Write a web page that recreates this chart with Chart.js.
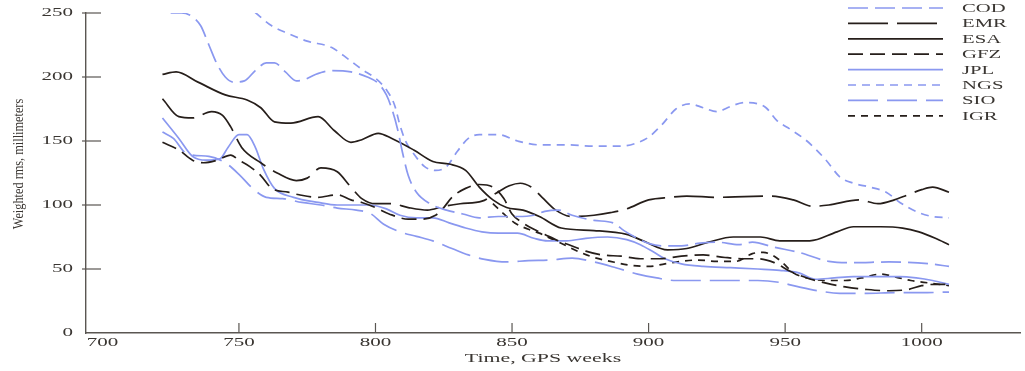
<!DOCTYPE html>
<html>
<head>
<meta charset="utf-8">
<script src="https://cdn.jsdelivr.net/npm/chart.js@4.4.1/dist/chart.umd.min.js"></script>
<style>
    html, body { margin: 0; padding: 0; background: #fff; }
</style>
</head>
<body>
<canvas id="rmsChart" width="1025" height="371"></canvas>
<script>
const xTicks = [700, 750, 800, 850, 900, 950, 1000]
const yTicks = [0, 50, 100, 150, 200, 250]

// weekly rms per analysis center (mm)
const codWeeks = [725, 729, 733, 736, 739, 742, 745, 748, 752, 756, 760, 763, 767, 771, 774, 778, 784, 791, 797, 801, 804, 806, 808, 810, 812, 815, 820, 826, 832, 838, 845, 852, 858, 862, 867, 872, 880, 887, 891, 895, 900, 905, 912, 918, 925, 933, 938, 946, 955, 966, 975, 988, 1003, 1010]
const codRms = [250, 250, 247, 240, 225, 210, 200, 196, 197, 205, 211, 211, 204, 197, 198, 202, 205, 204, 200, 195, 186, 175, 160, 140, 123, 110, 101, 96, 93, 90, 91, 91, 92, 95, 96, 92, 88, 86, 80, 75, 70, 68, 68, 70, 71, 69, 71, 67, 63, 56, 55, 55.5, 54, 52]

const emrWeeks = [722, 728, 733, 740, 744, 747, 751, 758, 764, 771, 775, 780, 786, 791, 795, 800, 806, 812, 819, 825, 831, 839, 844, 849, 853, 857, 861, 866, 872, 880, 886, 892, 900, 908, 914, 925, 935, 945, 953, 960, 966, 977, 984, 990, 995, 1000, 1004, 1010]
const emrRms = [183, 169, 168, 173, 170, 161, 145, 133, 125, 119, 121, 129, 126, 114, 105, 101, 101, 98, 96, 99, 101, 103, 109, 115, 117, 114, 106, 96, 91, 92, 94, 97, 104, 106, 107, 106, 106.5, 107, 104, 99, 100, 104, 101, 104, 108, 112, 114, 110]

const esaWeeks = [722, 727, 735, 745, 753, 758, 763, 769, 779, 785, 791, 795, 801, 806, 814, 821, 827, 833, 838, 843, 848, 854, 860, 868, 880, 892, 898, 907, 914, 922, 931, 941, 948, 959, 969, 975, 985, 993, 999, 1005, 1010]
const esaRms = [202, 204, 196, 186, 182, 176, 165, 164, 169, 158, 149, 151, 156, 152, 143, 134, 132, 127, 114, 104, 98, 96, 91, 82, 80, 77, 72, 65, 66, 71, 75, 75, 72, 72, 79, 83, 83, 82, 79, 74, 69]

const gfzWeeks = [722, 728, 733, 737, 742, 747, 750, 754, 758, 762, 768, 772, 779, 786, 791, 795, 800, 805, 812, 817, 822, 825, 828, 833, 838, 843, 847, 850, 854, 858, 862, 867, 872, 877, 883, 890, 897, 904, 912, 920, 928, 935, 940, 946, 952, 958, 965, 972, 980, 988, 995, 1000, 1005, 1010]
const gfzRms = [149, 143, 135, 133, 135, 139, 135, 130, 123, 113, 110, 108, 106, 108, 104, 102, 98, 93, 89, 89, 92, 98, 106, 113, 116, 114, 105, 93, 86, 81, 77, 72, 68, 64, 61, 60, 58, 58, 60, 61, 59, 58, 58, 55, 48, 43, 39, 36, 34, 33, 34, 37, 38, 38]

const jplWeeks = [722, 728, 733, 738, 743, 746, 750, 753, 756, 759, 763, 770, 779, 786, 798, 804, 809, 815, 821, 827, 833, 839, 845, 852, 858, 863, 870, 877, 885, 892, 897, 902, 906, 912, 920, 930, 940, 948, 955, 961, 968, 975, 985, 992, 998, 1004, 1010]
const jplRms = [168, 152, 138, 135, 136, 145, 155, 155, 145, 128, 113, 106, 102, 100, 100, 97, 92, 90, 90, 86, 82, 79, 78, 78, 74, 72, 72, 74, 75, 73, 69, 63, 58, 54, 52, 51, 50, 49, 47, 42, 43, 44, 44, 44, 43, 41, 38]

const ngsWeeks = [740, 748, 755, 762, 768, 775, 784, 790, 795, 800, 804, 807, 809, 811, 814, 818, 822, 826, 830, 834, 838, 845, 852, 860, 870, 880, 890, 895, 900, 905, 910, 915, 920, 925, 930, 935, 940, 943, 947, 952, 958, 965, 970, 975, 981, 987, 992, 999, 1004, 1010]
const ngsRms = [278, 263, 252, 240, 234, 228, 223, 214, 206, 199, 190, 178, 162, 150, 140, 130, 127, 130, 142, 152, 155, 155, 150, 147, 147, 146, 146, 148, 153, 163, 175, 179, 176, 173, 177, 180, 179, 176, 166, 159, 150, 135, 122, 117, 114, 110, 102, 94, 91, 90]

const sioWeeks = [722, 726, 731, 739, 745, 750, 755, 760, 766, 773, 780, 786, 793, 798, 803, 809, 815, 821, 828, 834, 840, 848, 856, 864, 872, 880, 888, 896, 903, 910, 920, 930, 940, 948, 955, 962, 970, 980, 990, 1000, 1010]
const sioRms = [157, 152, 140, 138, 133, 124, 113, 106, 105, 102, 100, 97.6, 96, 93.5, 85, 79, 75.5, 72, 66, 61, 57.5, 55.5, 56.5, 57, 58.5, 55.5, 51, 46, 43, 41, 41, 41, 41, 39.5, 36, 33, 31, 31, 31.5, 31.5, 32]

const igrWeeks = [843, 847, 851, 856, 860, 865, 870, 875, 880, 886, 893, 900, 906, 912, 918, 925, 932, 938, 942, 946, 949, 953, 958, 965, 972, 978, 985, 990, 996, 1003, 1010]
const igrRms = [101, 93, 86, 81, 78, 73, 68, 63, 59, 56, 53, 52, 54, 56, 57, 56, 56, 62, 63, 60, 55, 47, 43, 41, 41, 43, 46, 44, 41, 39, 37]

const blue = 'rgb(138,152,240)'
const black = 'rgb(38,30,26)'
const inkColor = '#3a3632'
const serif = '"Liberation Serif", "DejaVu Serif", serif'

function series(label, weeks, rms, color, dash) {
    return {
        label,
        data: weeks.map((w, i) => ({x: w, y: rms[i]})),
        borderColor: color,
        borderDash: dash,
        borderWidth: 1.7,
        pointRadius: 0,
        fill: false,
        cubicInterpolationMode: 'monotone'
    }
}

// draws text widened sideways like the printed figure
function wideText(ctx, text, x, y, align, size, stretch) {
    ctx.save()
    ctx.font = size + 'px ' + serif
    const w = ctx.measureText(text).width * stretch
    let left = x
    if (align === 'center') left = x - w / 2
    if (align === 'right') left = x - w
    ctx.translate(left, y)
    ctx.scale(stretch, 1)
    ctx.textAlign = 'left'
    ctx.textBaseline = 'middle'
    ctx.fillStyle = inkColor
    ctx.fillText(text, 0, 0)
    ctx.restore()
}

const figureDecor = {
    id: 'figureDecor',
    afterDraw(chart) {
        const {ctx, chartArea, scales} = chart
        const xs = scales.x, ys = scales.y

        ctx.save()
        ctx.strokeStyle = '#5a5652'
        ctx.lineWidth = 1.2
        yTicks.forEach(v => {
            const py = ys.getPixelForValue(v)
            if (v > 0) {
                ctx.beginPath()
                ctx.moveTo(chartArea.left - 4, py)
                ctx.lineTo(chartArea.left + 15, py)
                ctx.stroke()
            }
            wideText(ctx, String(v), chartArea.left - 13, py, 'right', 12, 1.75)
        })
        xTicks.forEach(v => {
            const px = xs.getPixelForValue(v)
            if (v > 700) {
                ctx.beginPath()
                ctx.moveTo(px, chartArea.bottom)
                ctx.lineTo(px, chartArea.bottom - 10)
                ctx.stroke()
            }
            wideText(ctx, String(v), px, chartArea.bottom + 10, 'center', 12, 1.75)
        })
        ctx.restore()

        wideText(ctx, 'Time, GPS weeks', 543, 359, 'center', 13, 1.68)

        ctx.save()
        ctx.translate(19, 164)
        ctx.scale(1.2, 1)
        ctx.rotate(-Math.PI / 2)
        ctx.font = '12.3px ' + serif
        ctx.textAlign = 'center'
        ctx.textBaseline = 'middle'
        ctx.fillStyle = inkColor
        ctx.fillText('Weighted rms, millimeters', 0, 0)
        ctx.restore()

        // legend in the upper right corner
        chart.data.datasets.forEach((ds, i) => {
            const ly = 8 + i * 15.4
            ctx.save()
            ctx.strokeStyle = ds.borderColor
            ctx.lineWidth = ds.borderWidth
            ctx.setLineDash(ds.borderDash || [])
            ctx.beginPath()
            ctx.moveTo(848, ly)
            ctx.lineTo(943, ly)
            ctx.stroke()
            ctx.restore()
            wideText(ctx, ds.label, 962, ly + 1, 'left', 11.5, 1.8)
        })
    }
}

const rmsChart = document.getElementById('rmsChart').getContext('2d')

new Chart(rmsChart, {
    type: 'line',
    data: {
        datasets: [
            series('COD', codWeeks, codRms, blue, [20, 7]),
            series('EMR', emrWeeks, emrRms, black, [40, 9]),
            series('ESA', esaWeeks, esaRms, black, []),
            series('GFZ', gfzWeeks, gfzRms, black, [15, 7]),
            series('JPL', jplWeeks, jplRms, blue, []),
            series('NGS', ngsWeeks, ngsRms, blue, [8, 6]),
            series('SIO', sioWeeks, sioRms, blue, [30, 9]),
            series('IGR', igrWeeks, igrRms, black, [7, 6])
        ]
    },
    options: {
        responsive: false,
        animation: false,
        devicePixelRatio: 1,
        layout: {
            padding: {left: 86, top: 13, right: 5, bottom: 38}
        },
        scales: {
            x: {
                type: 'linear',
                min: 694,
                max: 1036,
                ticks: {display: false},
                grid: {display: false, drawTicks: false},
                border: {display: true, color: '#5a5652', width: 1.4}
            },
            y: {
                min: 0,
                max: 250,
                ticks: {display: false},
                grid: {display: false, drawTicks: false},
                border: {display: true, color: '#5a5652', width: 1.4}
            }
        },
        plugins: {
            legend: {display: false},
            tooltip: {enabled: false}
        }
    },
    plugins: [figureDecor]
});
</script>
</body>
</html>
